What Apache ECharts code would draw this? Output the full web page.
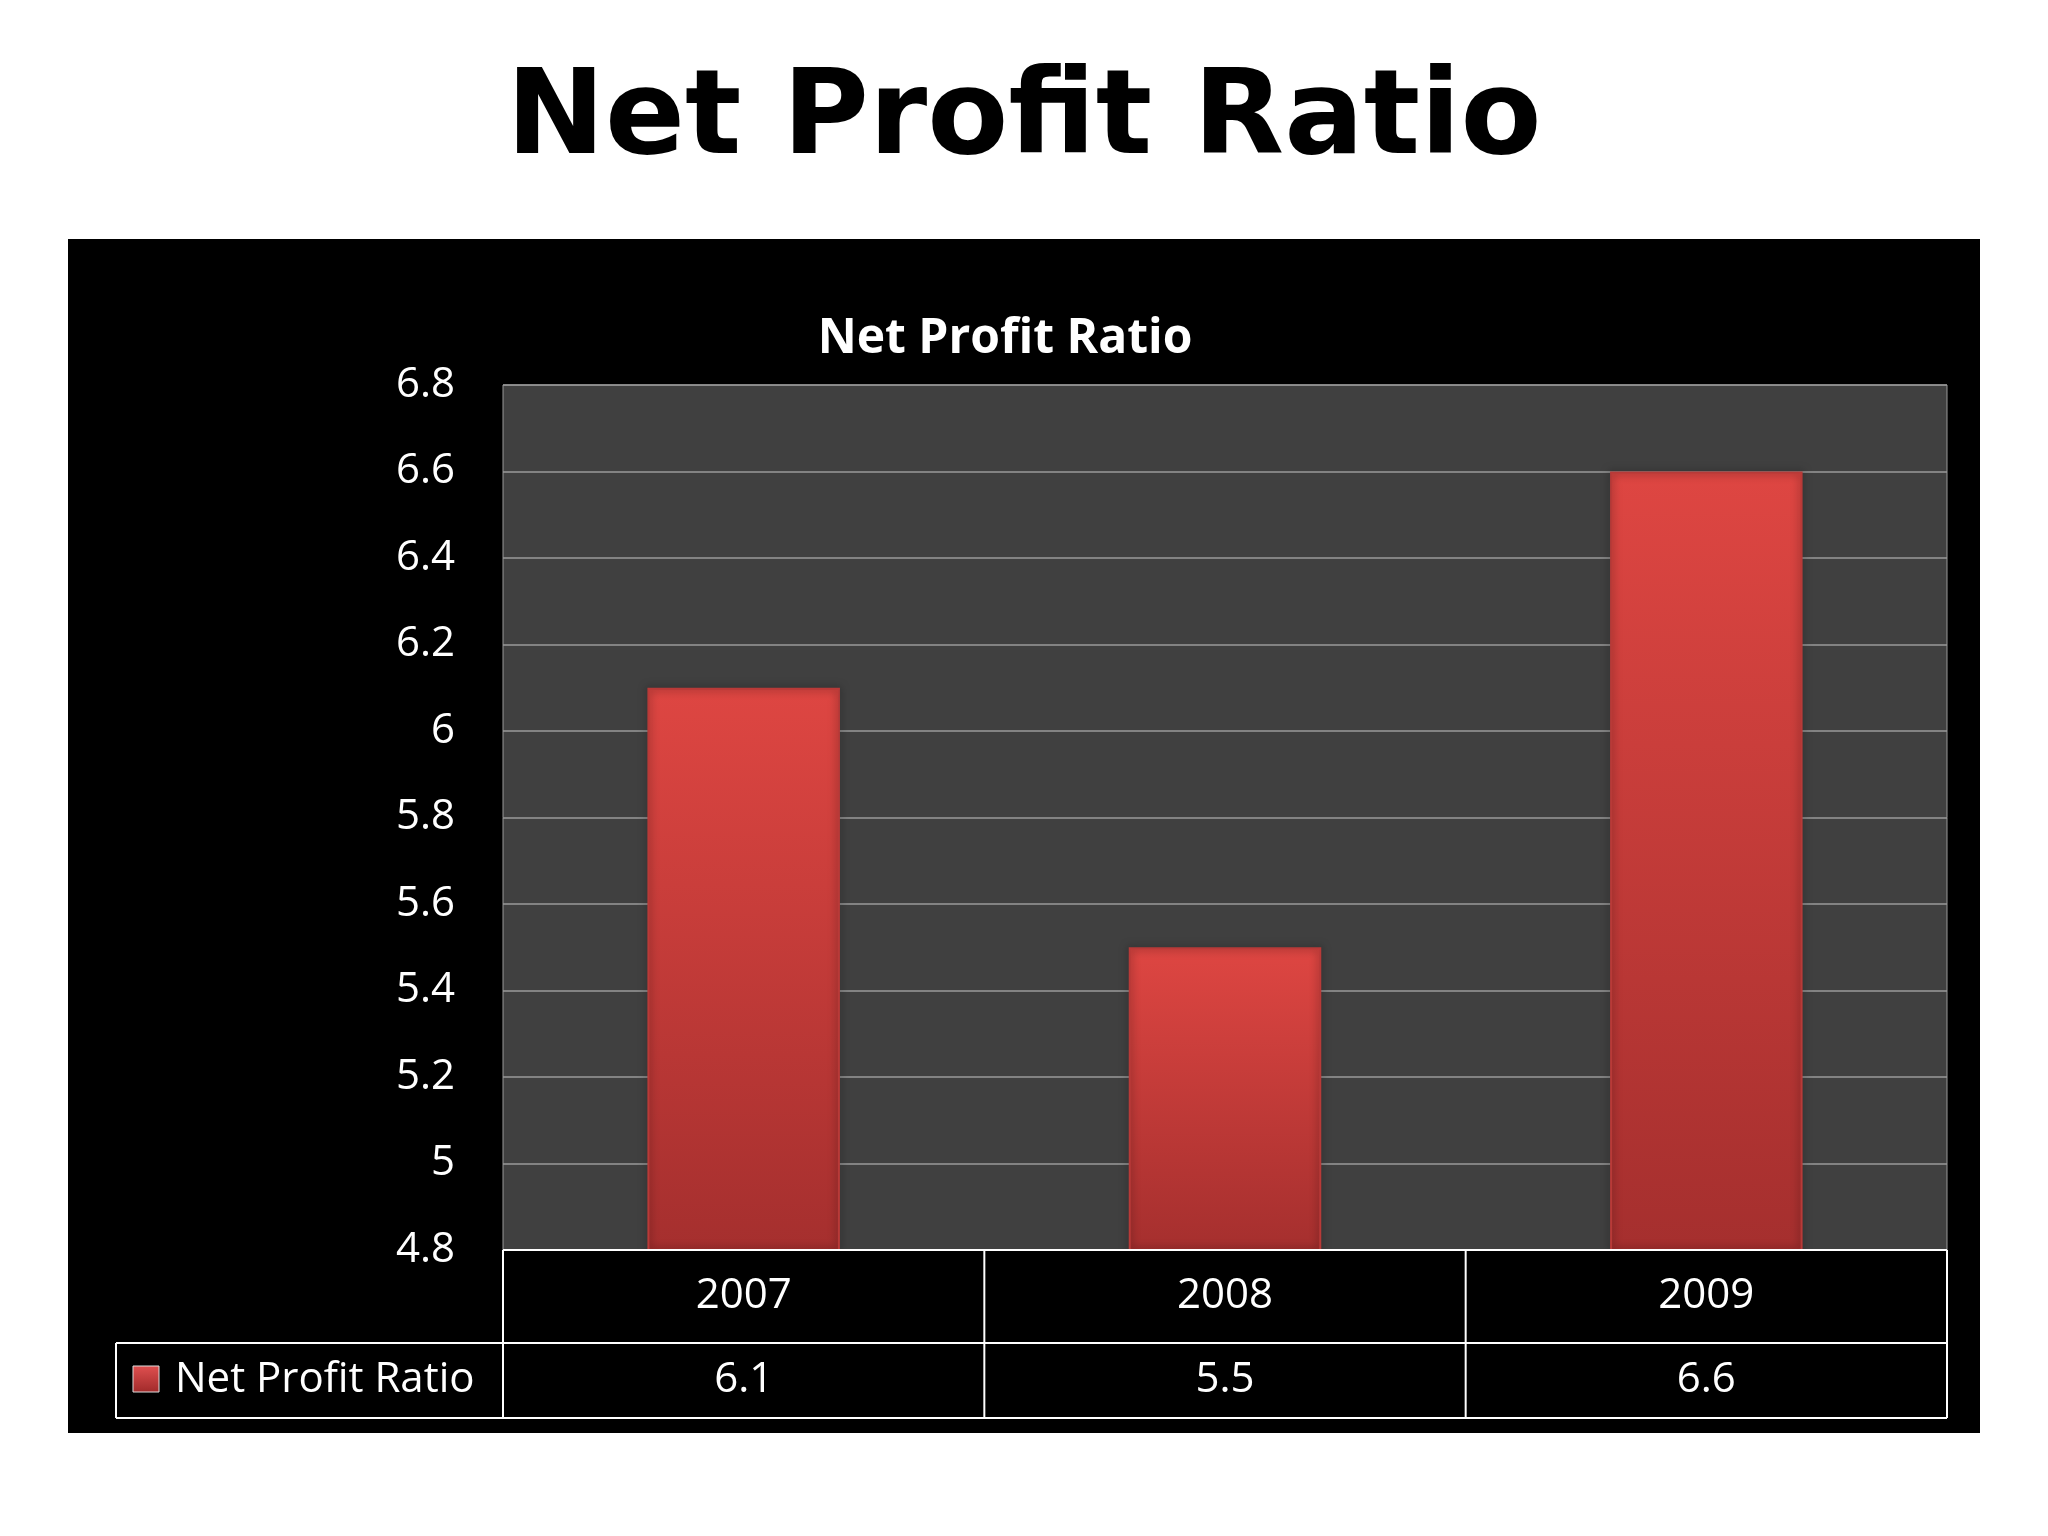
<!DOCTYPE html>
<html><head><meta charset="utf-8">
<script src="https://cdn.jsdelivr.net/npm/echarts@6/dist/echarts.min.js"></script>
<style>html,body{margin:0;background:#fff}#c{width:2048px;height:1536px}</style>
</head><body><div id="c"></div>
<script>
const categories = ['2007','2008','2009'];
const seriesName = 'Net Profit Ratio';
const values = [6.1, 5.5, 6.6];
const yTicks = [4.8,5,5.2,5.4,5.6,5.8,6,6.2,6.4,6.6,6.8];

const chart = echarts.init(document.getElementById('c'));
const L=503, R=1947, T=385, B=1250, ROW1=1343, ROW2=1418, LEG=116;
const font='"Open Sans", "Liberation Sans", sans-serif';
chart.setOption({
  backgroundColor:'#fff',
  title:[{text:'Net Profit Ratio',left:'center',top:58,textStyle:{fontFamily:'"DejaVu Sans", sans-serif',fontWeight:900,fontSize:118,color:'#000'}},
         {text:'Net Profit Ratio',left:1000,textAlign:'center',top:310,textStyle:{fontFamily:font,fontWeight:'bold',fontSize:48,color:'#fff'}}],
  graphic:[{type:'rect',z:-10,shape:{x:68,y:239,width:1912,height:1194},style:{fill:'#000'}}],
  grid:{left:L,right:2048-R,top:T,bottom:1536-B,show:true,backgroundColor:'#404040',borderColor:'#999',borderWidth:1},
  xAxis:{type:'category',data:categories,axisLine:{show:false},axisTick:{show:false},axisLabel:{show:false}},
  yAxis:{type:'value',min:4.8,max:6.8,interval:0.2,axisLine:{show:false},axisTick:{show:false},
    splitLine:{lineStyle:{color:'#9a9a9a',width:1.5}},
    axisLabel:{color:'#fff',fontSize:42,fontFamily:font,margin:48,formatter:v=>String(+v.toFixed(1))}},
  series:[{type:'bar',name:seriesName,data:values,barWidth:'40%',
    itemStyle:{color:new echarts.graphic.LinearGradient(0,0,0,1,[{offset:0,color:'#de4642'},{offset:1,color:'#a52f2e'}]),
      borderColor:'#b83a38',borderWidth:2,shadowColor:'rgba(0,0,0,0.6)',shadowBlur:8}}]
});
const g=[{type:'rect',z:-10,shape:{x:68,y:239,width:1912,height:1194},style:{fill:'#000'}}];
const ln=(x1,y1,x2,y2)=>g.push({type:'line',z:50,shape:{x1,y1,x2,y2},style:{stroke:'#fff',lineWidth:2}});
const step=(R-L)/categories.length;
ln(L,B,R,B);ln(L,ROW1,R,ROW1);ln(LEG,ROW1,LEG,ROW2);ln(LEG,ROW1,L,ROW1);ln(LEG,ROW2,R,ROW2);
for(let i=0;i<=categories.length;i++){ln(L+i*step,B,L+i*step,ROW2);}
categories.forEach((c,i)=>{
  const cx=chart.convertToPixel({xAxisIndex:0},c);
  g.push({type:'text',z:60,style:{text:c,x:cx,y:(B+ROW1)/2,align:'center',verticalAlign:'middle',fill:'#fff',fontSize:42,fontFamily:font}});
  g.push({type:'text',z:60,style:{text:String(values[i]),x:cx,y:(ROW1+ROW2)/2,align:'center',verticalAlign:'middle',fill:'#fff',fontSize:42,fontFamily:font}});
});
g.push({type:'rect',z:60,shape:{x:133,y:1366,width:26,height:26},style:{fill:new echarts.graphic.LinearGradient(0,0,0,1,[{offset:0,color:'#e05050'},{offset:1,color:'#a02a2a'}]),stroke:'#ddd',lineWidth:1}});
g.push({type:'text',z:60,style:{text:seriesName,x:175,y:(ROW1+ROW2)/2,verticalAlign:'middle',fill:'#fff',fontSize:42,fontFamily:font}});
chart.setOption({graphic:g});
</script></body></html>
